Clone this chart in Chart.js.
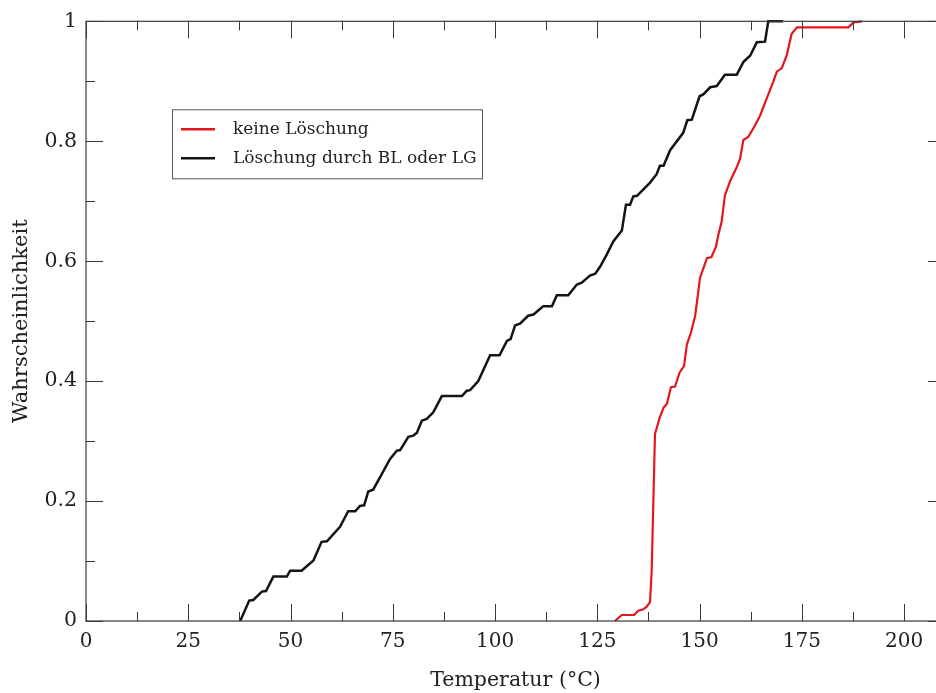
<!DOCTYPE html>
<html>
<head>
<meta charset="utf-8">
<script src="https://cdn.jsdelivr.net/npm/chart.js@4.4.0/dist/chart.umd.min.js"></script>
<style>
  html, body { margin: 0; padding: 0; background: #fff; overflow: hidden; }
  #wrap { width: 960px; height: 693px; }
</style>
</head>
<body>
<div id="wrap"><canvas id="cdf" width="960" height="693"></canvas></div>
<script>
const blackLabel = 'Löschung durch BL oder LG';
const blackT = [37.7, 39.9, 40.9, 43.0, 44.0, 45.8, 49.1, 49.9, 52.7, 55.6, 57.6, 58.9, 62.1, 64.1, 65.8,
  67.0, 68.0, 69.0, 70.2, 71.9, 74.3, 76.0, 76.8, 78.8, 80.0, 80.9, 82.1, 83.3, 84.9, 87.0, 91.9, 93.1,
  93.9, 95.9, 98.8, 101.1, 102.9, 103.8, 104.9, 106.1, 108.1, 109.4, 111.8, 113.9, 115.1, 117.9, 120.0,
  121.2, 123.2, 124.5, 125.7, 127.3, 128.9, 131.0, 132.0, 133.0, 133.8, 134.7, 137.9, 139.5, 140.3,
  141.2, 142.8, 146.0, 147.0, 148.1, 150.0, 150.9, 152.6, 154.2, 156.2, 159.1, 160.7, 162.4, 164.0,
  166.0, 166.8, 170.4];
const blackP = [0, 0.034, 0.035, 0.049, 0.050, 0.074, 0.074, 0.084, 0.084, 0.101, 0.132, 0.133, 0.157,
  0.183, 0.183, 0.192, 0.193, 0.216, 0.219, 0.240, 0.270, 0.284, 0.285, 0.307, 0.309, 0.314, 0.334,
  0.337, 0.348, 0.375, 0.375, 0.384, 0.385, 0.400, 0.443, 0.443, 0.467, 0.470, 0.493, 0.496, 0.509,
  0.511, 0.525, 0.525, 0.543, 0.543, 0.561, 0.564, 0.576, 0.579, 0.591, 0.611, 0.633, 0.651, 0.694,
  0.694, 0.708, 0.709, 0.731, 0.745, 0.759, 0.759, 0.785, 0.814, 0.835, 0.836, 0.875, 0.878, 0.890,
  0.892, 0.911, 0.911, 0.932, 0.943, 0.965, 0.966, 1, 1];

const redLabel = 'keine Löschung';
const redT = [129.3, 131.0, 134.0, 135.0, 136.1, 137.1, 137.9, 138.3, 139.1, 140.3, 141.2, 142.0, 143.0,
  144.0, 145.1, 146.2, 146.9, 147.9, 148.9, 149.5, 150.1, 151.8, 152.9, 154.0, 154.6, 155.4, 156.2,
  157.5, 159.1, 159.9, 160.7, 161.9, 163.6, 164.8, 166.4, 168.0, 168.9, 170.1, 171.3, 172.5, 173.8,
  186.4, 187.6, 189.7];
const redP = [0, 0.010, 0.010, 0.017, 0.019, 0.024, 0.032, 0.085, 0.312, 0.340, 0.356, 0.362, 0.390,
  0.391, 0.414, 0.425, 0.461, 0.481, 0.508, 0.539, 0.572, 0.605, 0.607, 0.624, 0.644, 0.666, 0.710,
  0.734, 0.757, 0.771, 0.802, 0.807, 0.827, 0.843, 0.871, 0.899, 0.916, 0.922, 0.943, 0.979, 0.990,
  0.990, 0.998, 1];

const X_TICKS = [0, 25, 50, 75, 100, 125, 150, 175, 200];
const Y_TICKS = [0, 0.2, 0.4, 0.6, 0.8, 1];
const X_MINOR = [12.5, 37.5, 62.5, 87.5, 112.5, 137.5, 162.5, 187.5];
const Y_MINOR = [0.1, 0.3, 0.5, 0.7, 0.9];

const SERIF = '"DejaVu Serif", serif';
const AXIS = '#3a3a3a';

const toPts = (xs, ys) => xs.map((x, i) => ({ x, y: ys[i] }));

// frame, inward tick marks on all four sides, and the boxed legend
const framePlugin = {
  id: 'frame',
  afterDraw(chart) {
    const { ctx, chartArea: a, scales: { x, y } } = chart;
    ctx.save();
    ctx.strokeStyle = AXIS;
    ctx.lineWidth = 1.2;
    ctx.strokeRect(a.left, a.top, a.right - a.left, a.bottom - a.top);

    ctx.lineWidth = 1;
    ctx.beginPath();
    const xt = (v, len) => {
      const px = Math.round(x.getPixelForValue(v)) + 0.5;
      ctx.moveTo(px, a.bottom); ctx.lineTo(px, a.bottom - len);
      ctx.moveTo(px, a.top);    ctx.lineTo(px, a.top + len);
    };
    const yt = (v, len) => {
      const py = Math.round(y.getPixelForValue(v)) + 0.5;
      ctx.moveTo(a.left, py);  ctx.lineTo(a.left + len, py);
      ctx.moveTo(a.right, py); ctx.lineTo(a.right - len, py);
    };
    X_TICKS.forEach(v => xt(v, 17));
    X_MINOR.forEach(v => xt(v, 9));
    Y_TICKS.forEach(v => yt(v, 17));
    Y_MINOR.forEach(v => yt(v, 9));
    ctx.stroke();

    // legend box
    const lx = a.left + 86, ly = a.top + 88, lw = 310, lh = 69;
    ctx.fillStyle = '#fff';
    ctx.fillRect(lx, ly, lw, lh);
    ctx.strokeStyle = '#555';
    ctx.lineWidth = 1;
    ctx.strokeRect(lx + 0.5, ly + 0.5, lw, lh);
    const items = [chart.data.datasets[1], chart.data.datasets[0]];
    ctx.font = '17px ' + SERIF;
    ctx.textBaseline = 'middle';
    items.forEach((ds, i) => {
      const cy = ly + 20 + i * 29;
      ctx.strokeStyle = ds.borderColor;
      ctx.lineWidth = 2.5;
      ctx.beginPath();
      ctx.moveTo(lx + 9, cy); ctx.lineTo(lx + 43, cy);
      ctx.stroke();
      ctx.fillStyle = '#222';
      ctx.fillText(ds.label, lx + 61, cy);
    });
    ctx.restore();
  }
};

new Chart(document.getElementById('cdf'), {
  type: 'line',
  data: {
    datasets: [
      {
        label: blackLabel,
        data: toPts(blackT, blackP),
        borderColor: '#141414',
        borderWidth: 2.5,
        pointRadius: 0,
        tension: 0,
        clip: 3,
      },
      {
        label: redLabel,
        data: toPts(redT, redP),
        borderColor: '#e3161d',
        borderWidth: 2.2,
        pointRadius: 0,
        tension: 0,
        clip: 3,
      },
    ],
  },
  options: {
    responsive: false,
    animation: false,
    layout: { padding: { top: 19, right: 15, left: 0, bottom: 0 } },
    plugins: {
      legend: { display: false },
      tooltip: { enabled: false },
    },
    scales: {
      x: {
        type: 'linear',
        min: 0,
        max: 210,
        afterFit: s => { s.height = 72; },
        afterBuildTicks: s => { s.ticks = X_TICKS.map(v => ({ value: v })); },
        grid: { drawOnChartArea: false, drawTicks: false },
        border: { display: false },
        ticks: {
          color: '#222',
          padding: 9,
          maxRotation: 0,
          autoSkip: false,
          font: { family: SERIF, size: 20 },
          callback: v => String(v),
        },
        title: {
          display: true,
          text: 'Temperatur (°C)',
          color: '#222',
          padding: { top: 0, bottom: 0 },
          font: { family: SERIF, size: 20.5 },
        },
      },
      y: {
        type: 'linear',
        min: 0,
        max: 1,
        afterFit: s => { s.width = 86; },
        afterBuildTicks: s => { s.ticks = Y_TICKS.map(v => ({ value: v })); },
        grid: { drawOnChartArea: false, drawTicks: false },
        border: { display: false },
        ticks: {
          color: '#222',
          padding: 9,
          autoSkip: false,
          font: { family: SERIF, size: 20.5 },
          callback: v => String(+v.toFixed(1)),
        },
        title: {
          display: true,
          text: 'Wahrscheinlichkeit',
          color: '#222',
          padding: { top: 9, bottom: 0 },
          font: { family: SERIF, size: 21 },
        },
      },
    },
  },
  plugins: [framePlugin],
});
</script>
</body>
</html>
